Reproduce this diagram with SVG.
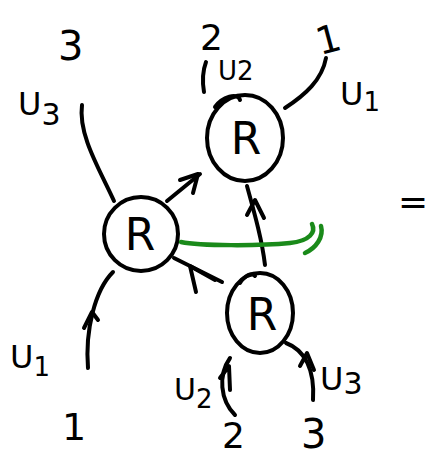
<svg xmlns="http://www.w3.org/2000/svg" width="435" height="461" viewBox="0 0 435 461">
<style>
.s{fill:none;stroke:#000;stroke-width:4;stroke-linecap:round;stroke-linejoin:round}
.g{fill:none;stroke:#1a8a1a;stroke-width:4.5;stroke-linecap:round}
.t{font-family:"DejaVu Sans",sans-serif;fill:#000}
.r{font-family:"DejaVu Sans",sans-serif;fill:#000;font-size:44px;text-anchor:middle}
</style>
<rect width="435" height="461" fill="#fff"/>
<g id="nodeL">
<ellipse class="s" cx="141" cy="234" rx="37" ry="37"/>
<text class="r" x="140" y="250">R</text>
</g>
<g id="nodeT">
<ellipse class="s" cx="245" cy="138" rx="38" ry="43"/>
<path class="s" d="M215,107 C222,97 238,92 240,100"/>
<text class="r" x="246" y="154">R</text>
</g>
<g id="nodeB">
<ellipse class="s" cx="260" cy="313" rx="33" ry="40"/>
<path class="s" d="M240,283 C245,275 252,272 255,276"/>
<text class="r" x="262" y="330">R</text>
</g>
<g id="connectors">
<path class="s" d="M82,105 C78,135 100,170 114,201"/>
<path class="s" d="M167,201 L200,174"/>
<path class="s" d="M180,180 L198,174 L193,193"/>
<path class="s" d="M204,92 C202,80 203,70 206,62"/>
<path class="s" d="M285,108 C305,95 322,80 326,58"/>
<path class="s" d="M247,186 C255,215 262,240 265,265"/>
<path class="s" d="M247,215 L255,200 L264,218"/>
<path class="s" d="M222,282 L174,258"/>
<path class="s" d="M196,292 L190,266 L215,280"/>
<path class="s" d="M113,272 C95,290 85,330 88,368"/>
<path class="s" d="M84,328 L92,312 L98,320"/>
<path class="s" d="M230,358 C218,375 220,400 235,415"/>
<path class="s" d="M220,378 L229,366 L230,390"/>
<path class="s" d="M286,343 C305,350 315,370 313,400"/>
<path class="s" d="M300,366 L307,353 L314,370"/>
<path class="g" d="M181,242 C200,246 260,246 290,243 C310,241 316,232 312,224"/>
<path class="g" d="M305,253 C316,248 324,237 321,226"/>
</g>
<g id="labels" class="t">
<text x="58" y="60" font-size="40">3</text>
<text x="18" y="115" font-size="32">U<tspan font-size="30" dy="10">3</tspan></text>
<text x="200" y="50" font-size="36">2</text>
<text x="218" y="80" font-size="26">U2</text>
<text x="316" y="52" font-size="38" transform="rotate(-15 330 38)">1</text>
<text x="340" y="105" font-size="32">U<tspan font-size="26" dy="6">1</tspan></text>
<text x="398" y="214" font-size="36">=</text>
<text x="10" y="368" font-size="32">U<tspan font-size="26" dy="8">1</tspan></text>
<text x="62" y="440" font-size="38">1</text>
<text x="174" y="400" font-size="30">U<tspan font-size="26" dy="8">2</tspan></text>
<text x="222" y="448" font-size="36">2</text>
<text x="301" y="448" font-size="40">3</text>
<text x="320" y="390" font-size="32">U<tspan font-size="30" dy="4">3</tspan></text>
</g>
</svg>
